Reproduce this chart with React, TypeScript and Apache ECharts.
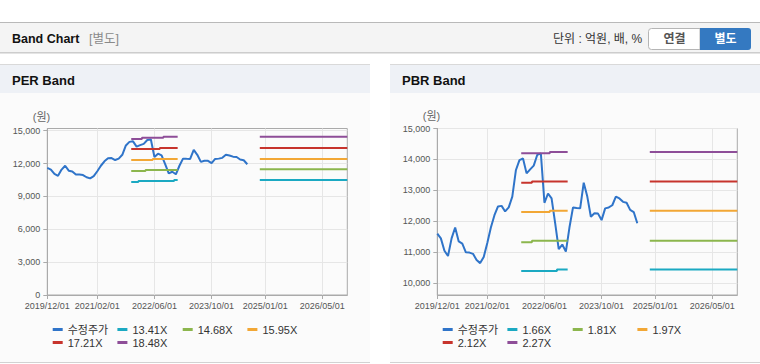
import React, { useEffect, useRef } from "react";
import * as echarts from "echarts";

// ---------- data ----------
const xTickLabels = ["2019/12/01", "2021/02/01", "2022/06/01", "2023/10/01", "2025/01/01", "2026/05/01"];

// monthly categories 2019/12 .. 2026/12
const months: string[] = [];
for (let i = 0; i <= 84; i++) {
  const y = 2019 + Math.floor((11 + i) / 12);
  const m = ((11 + i) % 12) + 1;
  months.push(`${y}/${String(m).padStart(2, "0")}/01`);
}

// adjusted price (수정주가), monthly from 2019/12 to 2024/08
const price = [
  11600, 11450, 11050, 10880, 11450, 11800, 11350, 11280, 11000, 10990,
  10950, 10750, 10650, 10850, 11300, 11800, 12200, 12480, 12500, 12320,
  12450, 12800, 13650, 13980, 14030, 13550, 13680, 13800, 14150, 14190,
  12600, 12900, 12740, 11940, 11100, 11250, 11020, 11800, 12450, 12430,
  12420, 13250, 12800, 12150, 12260, 12250, 12040, 12420, 12450, 12520,
  12800, 12740, 12630, 12600, 12370, 12300, 11940,
];

// band segments: first = 2021/12 .. 2022/12 (monthly), second = 2024/12 .. 2026/12 (flat level)
const seg1Start = "2021/12/01";
const seg2Start = "2024/12/01";

const perNames = ["13.41X", "14.68X", "15.95X", "17.21X", "18.48X"];
const perSeg1 = [
  [10310, 10310, 10410, 10410, 10410, 10410, 10410, 10410, 10410, 10410, 10410, 10410, 10500],
  [11320, 11320, 11320, 11320, 11410, 11410, 11410, 11410, 11410, 11410, 11410, 11410, 11410],
  [12320, 12320, 12320, 12320, 12320, 12320, 12410, 12410, 12410, 12410, 12410, 12410, 12410],
  [13330, 13330, 13330, 13330, 13330, 13330, 13330, 13330, 13420, 13420, 13420, 13420, 13420],
  [14240, 14240, 14240, 14360, 14360, 14360, 14360, 14360, 14360, 14450, 14450, 14450, 14450],
];
const perSeg2 = [10490, 11480, 12420, 13420, 14450];

const pbrNames = ["1.66X", "1.81X", "1.97X", "2.12X", "2.27X"];
const pbrSeg1 = [
  [10398, 10398, 10398, 10398, 10398, 10398, 10398, 10398, 10398, 10398, 10441, 10441, 10441],
  [11323, 11323, 11323, 11376, 11376, 11376, 11376, 11376, 11376, 11376, 11376, 11376, 11376],
  [12301, 12301, 12301, 12301, 12301, 12301, 12301, 12301, 12344, 12344, 12344, 12344, 12344],
  [13247, 13247, 13247, 13285, 13285, 13285, 13285, 13285, 13285, 13285, 13285, 13285, 13285],
  [14204, 14204, 14204, 14204, 14204, 14204, 14204, 14204, 14237, 14237, 14237, 14237, 14237],
];
const pbrSeg2 = [10441, 11376, 12344, 13290, 14237];

const perTicks = [0, 3000, 6000, 9000, 12000, 15000];
const pbrTicks = [10000, 11000, 12000, 13000, 14000, 15000];

const priceName = "수정주가";
const priceColor = "#2f74c9";
const bandColors = ["#1ba9c2", "#8cb64d", "#f2a735", "#c7342d", "#8e4e98"];

// ---------- helpers ----------
const FONT = "'Liberation Sans', 'Noto Sans CJK KR', sans-serif";

function buildBand(first: number[], level: number): (number | null)[] {
  const out: (number | null)[] = months.map(() => null);
  const s1 = months.indexOf(seg1Start);
  first.forEach((v, i) => (out[s1 + i] = v));
  const s2 = months.indexOf(seg2Start);
  for (let i = s2; i < months.length; i++) out[i] = level;
  return out;
}

const isTick = (_i: number, v: string) => xTickLabels.includes(v);

function makeAxes(idx: number, yMin: number, yMax: number, ticks: number[]) {
  const x = {
    type: "category",
    gridIndex: idx,
    data: months,
    boundaryGap: false,
    axisLine: { lineStyle: { color: "#aaaaaa" } },
    axisTick: { interval: isTick, length: 4, lineStyle: { color: "#aaaaaa" } },
    axisLabel: { interval: isTick, margin: 6, fontSize: 9, color: "#555", fontFamily: FONT },
    splitLine: { show: true, interval: isTick, lineStyle: { color: "#e6e6e6" } },
  };
  const y = {
    type: "value",
    gridIndex: idx,
    min: yMin,
    max: yMax,
    axisLine: { show: true, lineStyle: { color: "#aaaaaa" } },
    axisTick: { show: true, length: 4, customValues: ticks, lineStyle: { color: "#aaaaaa" } },
    axisLabel: {
      customValues: ticks,
      margin: 7,
      fontSize: 9,
      color: "#555",
      fontFamily: FONT,
      formatter: (v: number) => v.toLocaleString("en-US"),
    },
    splitLine: { show: true, lineStyle: { color: "#e6e6e6" } },
  };
  return { x, y };
}

function makeSeries(idx: number, names: string[], seg1: number[][], seg2: number[]) {
  const list: any[] = [
    {
      name: priceName,
      type: "line",
      xAxisIndex: idx,
      yAxisIndex: idx,
      data: price,
      showSymbol: false,
      symbol: "none",
      lineStyle: { width: 2, color: priceColor },
      itemStyle: { color: priceColor },
    },
  ];
  names.forEach((n, i) => {
    list.push({
      name: n,
      type: "line",
      xAxisIndex: idx,
      yAxisIndex: idx,
      data: buildBand(seg1[i], seg2[i]),
      step: "middle",
      showSymbol: false,
      symbol: "none",
      connectNulls: false,
      lineStyle: { width: 2, color: bandColors[i] },
      itemStyle: { color: bandColors[i] },
    });
  });
  return list;
}

function makeLegends(offsetX: number, names: string[]) {
  const all = [priceName, ...names];
  const cols = [52.7, 117.4, 182.7, 247.4];
  return all.map((n, i) => ({
    data: [n],
    left: offsetX + cols[i % 4],
    top: i < 4 ? 324 : 337,
    padding: 0,
    icon: "rect",
    itemWidth: 10,
    itemHeight: 3,
    selectedMode: false,
    textStyle: { fontSize: 11, color: "#333", fontFamily: FONT },
  }));
}

export default function App() {
  const ref = useRef<HTMLDivElement>(null);

  useEffect(() => {
    if (!ref.current) return;
    const chart = echarts.init(ref.current, undefined, { renderer: "svg" });

    const a0 = makeAxes(0, 0, 15200, perTicks);
    const a1 = makeAxes(1, 9620, 15000, pbrTicks);

    const rect = (x: number, y: number, w: number, h: number, fill: string) => ({
      type: "rect",
      z: -10,
      silent: true,
      shape: { x, y, width: w, height: h },
      style: { fill },
    });
    const text = (x: number, y: number, t: string, font: any, align = "left") => ({
      type: "text",
      z: 10,
      silent: true,
      x,
      y,
      style: {
        text: t,
        fontFamily: FONT,
        textAlign: align,
        textVerticalAlign: "middle",
        ...font,
      },
    });

    const panel = (x0: number, title: string) => [
      rect(x0, 64, 370, 1, "#d9d9d9"),
      rect(x0, 65, 370, 28, "#eef1f6"),
      rect(x0, 93, 370, 269, "#fbfbfb"),
      rect(x0, 362, 370, 1, "#d2d2d2"),
      text(x0 + 12, 80, title, { fontSize: 13, fontWeight: "bold", fill: "#111" }),
    ];

    const graphic = [
      rect(0, 22, 760, 1, "#b9b9b9"),
      rect(0, 23, 760, 29, "#f4f4f4"),
      rect(0, 52, 760, 1, "#cdcdcd"),
      rect(0, 53, 760, 1, "#e4e4e4"),
      text(12, 38.5, "Band Chart", { fontSize: 12.5, fontWeight: "bold", fill: "#111" }),
      text(89, 38.5, "[별도]", { fontSize: 12.5, fill: "#8a8a8a" }),
      text(553, 38.5, "단위 : 억원, 배, %", { fontSize: 12, fill: "#333" }),
      {
        type: "rect",
        z: 5,
        silent: true,
        shape: { x: 648.5, y: 28.5, width: 51.5, height: 21, r: [3, 0, 0, 3] },
        style: { fill: "#ffffff", stroke: "#b5b5b5", lineWidth: 1 },
      },
      text(674.5, 39, "연결", { fontSize: 12, fontWeight: "bold", fill: "#555" }, "center"),
      {
        type: "rect",
        z: 5,
        silent: true,
        shape: { x: 700, y: 28, width: 51, height: 22, r: [0, 3, 3, 0] },
        style: { fill: "#3479c1" },
      },
      text(725.5, 39, "별도", { fontSize: 12, fontWeight: "bold", fill: "#ffffff" }, "center"),
      ...panel(0, "PER Band"),
      ...panel(390, "PBR Band"),
      text(41.5, 116.7, "(원)", { fontSize: 11, fill: "#666" }, "center"),
      text(431.5, 115.5, "(원)", { fontSize: 11, fill: "#666" }, "center"),
    ];

    chart.setOption({
      animation: false,
      graphic,
      grid: [
        { left: 47.3, top: 128.5, width: 300, height: 166.5, show: true, borderColor: "#aaaaaa", backgroundColor: "transparent" },
        { left: 437.3, top: 128.5, width: 300, height: 166.5, show: true, borderColor: "#aaaaaa", backgroundColor: "transparent" },
      ],
      xAxis: [a0.x, a1.x],
      yAxis: [a0.y, a1.y],
      legend: [...makeLegends(0, perNames), ...makeLegends(390, pbrNames)],
      series: [...makeSeries(0, perNames, perSeg1, perSeg2), ...makeSeries(1, pbrNames, pbrSeg1, pbrSeg2)],
    });

    return () => chart.dispose();
  }, []);

  return (
    <div
      ref={ref}
      style={{ position: "absolute", left: 0, top: 0, width: 760, height: 364, background: "#ffffff" }}
    />
  );
}
